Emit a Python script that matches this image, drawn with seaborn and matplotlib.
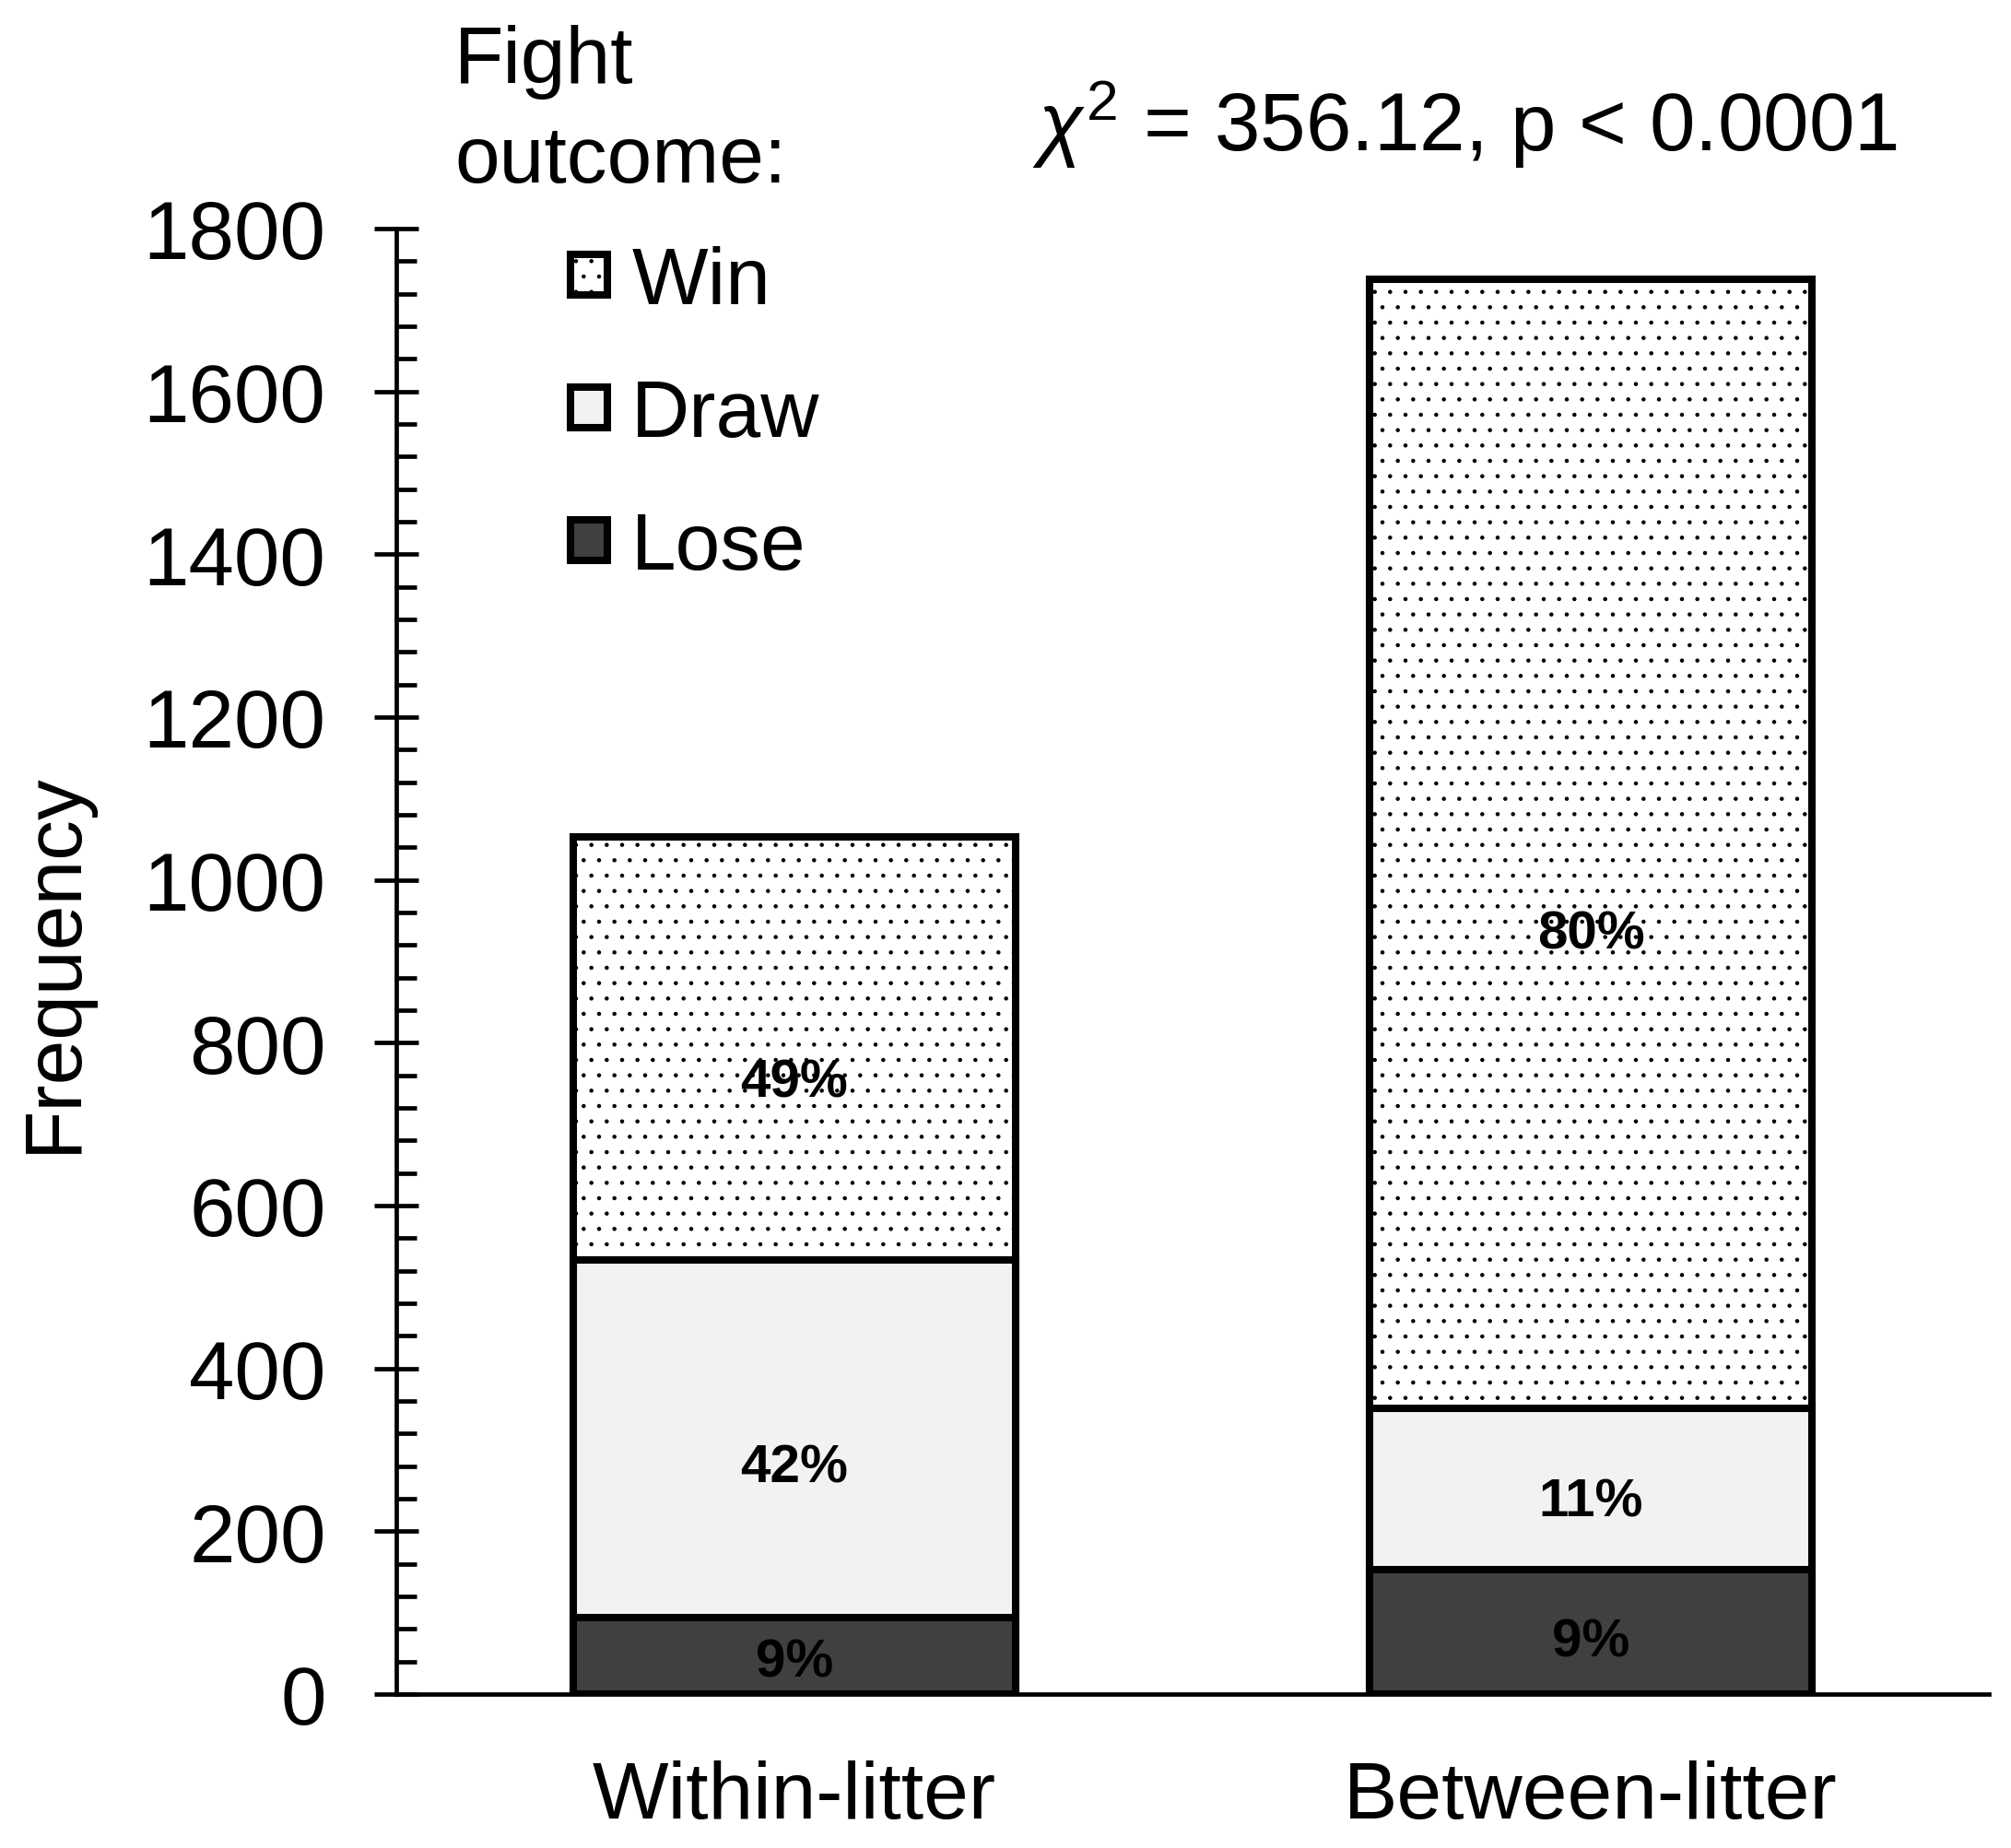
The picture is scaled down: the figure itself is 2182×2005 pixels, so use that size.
import matplotlib
matplotlib.use("Agg")
import matplotlib.pyplot as plt
import seaborn as sns
import pandas as pd
from matplotlib.ticker import MultipleLocator

# ---- data ----
categories = ["Within-litter", "Between-litter"]
outcomes = ["Win", "Draw", "Lose"]
win = [520, 1387]
draw = [439, 198]
lose = [94, 153]
stat_text = r"$\chi^{2}$ = 356.12, p < 0.0001"
legend_title = "Fight\noutcome:"
y_label = "Frequency"

sns.set_theme(style="white")
plt.rcParams['font.family'] = ['Liberation Sans', 'DejaVu Sans']
plt.rcParams['mathtext.fontset'] = 'custom'
plt.rcParams['mathtext.rm'] = 'Liberation Sans'
plt.rcParams['mathtext.it'] = 'Liberation Sans:italic'
plt.rcParams['hatch.linewidth'] = 0.8
for k in ['text.color', 'axes.labelcolor', 'xtick.color', 'ytick.color']:
    plt.rcParams[k] = 'black'

df = pd.DataFrame({"litter": categories, "Win": win, "Draw": draw, "Lose": lose})
df["cum_lose"] = df["Lose"]
df["cum_draw"] = df["Lose"] + df["Draw"]
df["cum_win"] = df["cum_draw"] + df["Win"]
df["total"] = df["cum_win"]

W, H = 2182, 2006
fig = plt.figure(figsize=(W / 100, H / 100), dpi=100)
fig.patch.set_facecolor("white")
ax = fig.add_axes([430 / W, 1 - 1839 / H, 1728 / W, 1590 / H])

bw = 0.556
lw = 5.8
common = dict(data=df, x="litter", order=categories, edgecolor="black",
              linewidth=lw, width=bw, errorbar=None, saturation=1, ax=ax)
sns.barplot(y="cum_win", color="white", hatch=".", **common)
sns.barplot(y="cum_draw", color="#f2f2f2", **common)
sns.barplot(y="cum_lose", color="#404040", **common)

ax.set_xlim(-0.5, 1.5)
ax.set_ylim(0, 1800)
ax.yaxis.set_major_locator(MultipleLocator(200))
ax.yaxis.set_minor_locator(MultipleLocator(40))
ax.set_xlabel("")
ax.set_ylabel(y_label, fontsize=63, color="black")
ax.yaxis.set_label_coords(-0.191, 0.5)

for side in ["top", "right"]:
    ax.spines[side].set_visible(False)
for side in ["left", "bottom"]:
    ax.spines[side].set_linewidth(3.4)
    ax.spines[side].set_color("black")

ax.tick_params(axis="y", which="major", direction="inout", length=34, width=3.4,
               labelsize=64, pad=38, left=True, colors="black")
ax.tick_params(axis="y", which="minor", direction="in", length=16, width=3.4,
               left=True, colors="black")
ax.tick_params(axis="x", length=0, labelsize=63, pad=51, colors="black")

# percentage labels inside each segment (placed a little below the middle, as in the source)
for i in range(len(categories)):
    tot = df["total"][i]
    bottoms = [df["cum_draw"][i], df["cum_lose"][i], 0]
    vals = [df["Win"][i], df["Draw"][i], df["Lose"][i]]
    for b, v in zip(bottoms, vals):
        ax.text(i, b + 0.42 * v, f"{round(100 * v / tot)}%", ha="center", va="center",
                fontsize=42, fontweight="bold", color="black")

ax.legend(handles=list(ax.containers[:3]), labels=outcomes, loc="upper left",
          bbox_to_anchor=(619 / W, 1 - 267 / H), bbox_transform=fig.transFigure,
          frameon=False, borderpad=0, borderaxespad=0, handlelength=0.457,
          handleheight=0.397, handletextpad=0.3, labelspacing=0.72, fontsize=63,
          labelcolor="black")

fig.text(493 / W, 1 - 198 / H, legend_title, fontsize=63, ha="left", va="baseline",
         linespacing=1.43, color="black")
fig.text(1120 / W, 1 - 164 / H, stat_text, fontsize=64, ha="left", va="baseline",
         color="black")

fig.savefig("out.png", dpi=100, facecolor="white")
